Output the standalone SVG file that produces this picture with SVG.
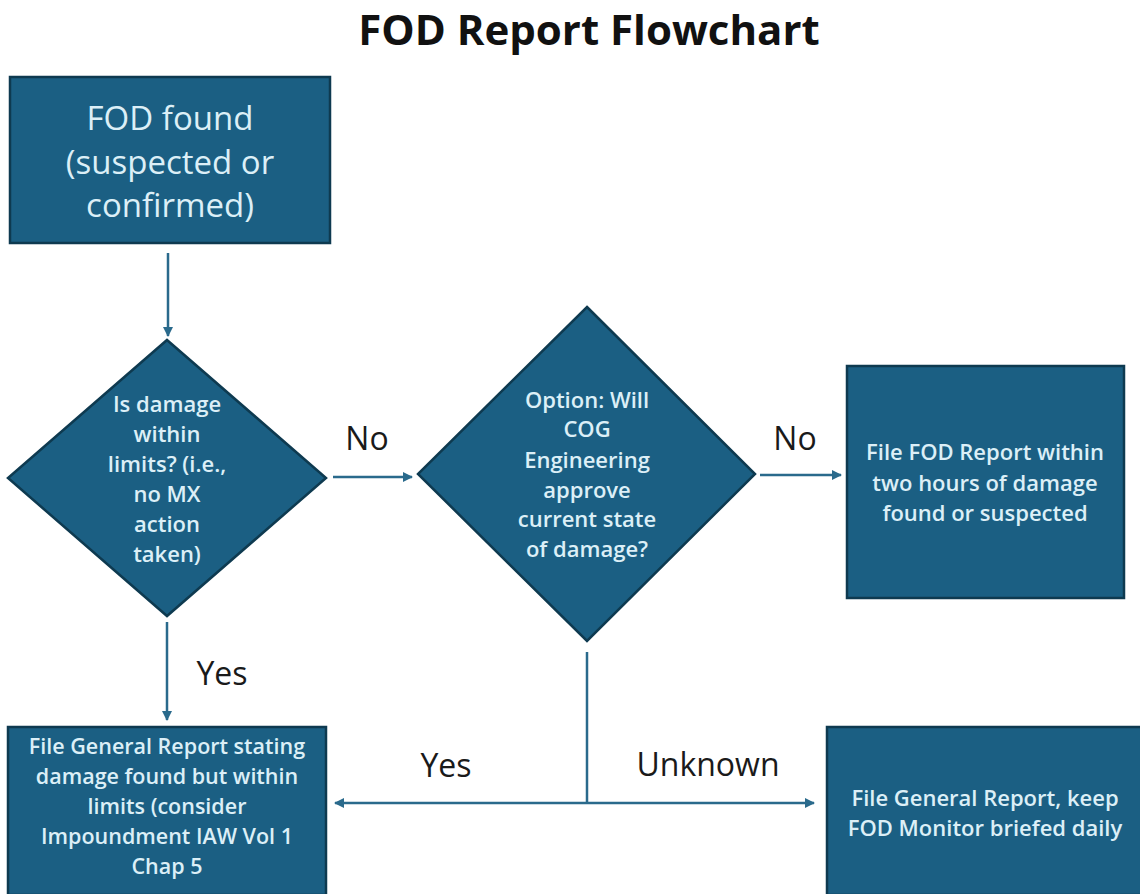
<svg xmlns="http://www.w3.org/2000/svg" width="1140" height="894" viewBox="0 0 1140 894">
<style>
.node{fill:#1B5F83;stroke:#0E3A50;stroke-width:2.5}
.nt{font-family:"Open Sans","Liberation Sans",Arial,sans-serif;fill:#DCEFF7;text-anchor:middle;font-weight:600;font-size:22px}
.lbl{font-family:"Open Sans","Liberation Sans",Arial,sans-serif;fill:#1a1a1a;text-anchor:middle;font-size:32px}
.con{stroke:#2A6A8C;stroke-width:2.5;fill:none}
</style>
<defs>
<marker id="ah" viewBox="0 0 10 10" refX="9" refY="5" markerWidth="4" markerHeight="4" orient="auto-start-reverse">
<path d="M0,0 L10,5 L0,10 z" fill="#2A6A8C"/>
</marker>
</defs>
<rect width="1140" height="894" fill="#ffffff"/>
<text x="589" y="45" font-family="Open Sans,Liberation Sans,Arial,sans-serif" font-weight="bold" font-size="42" text-anchor="middle" fill="#111">FOD Report Flowchart</text>

<g id="start">
<rect class="node" x="10" y="77" width="320" height="166"/>
<text class="nt" style="font-size:33px;font-weight:400"><tspan x="170" y="130">FOD found</tspan><tspan x="170" y="174">(suspected or</tspan><tspan x="170" y="217">confirmed)</tspan></text>
</g>

<g id="decision1">
<polygon class="node" points="167,340 326,478 167,616 8,478"/>
<text class="nt"><tspan x="167" y="412">Is damage</tspan><tspan x="167" y="442">within</tspan><tspan x="167" y="472">limits? (i.e.,</tspan><tspan x="167" y="502">no MX</tspan><tspan x="167" y="532">action</tspan><tspan x="167" y="562">taken)</tspan></text>
</g>

<g id="decision2">
<polygon class="node" points="587,307 755,474 587,641 418,474"/>
<text class="nt"><tspan x="587" y="408">Option: Will</tspan><tspan x="587" y="437">COG</tspan><tspan x="587" y="468">Engineering</tspan><tspan x="587" y="498">approve</tspan><tspan x="587" y="527">current state</tspan><tspan x="587" y="557">of damage?</tspan></text>
</g>

<g id="fodReport">
<rect class="node" x="847" y="366" width="277" height="232"/>
<text class="nt"><tspan x="985" y="460">File FOD Report within</tspan><tspan x="985" y="491">two hours of damage</tspan><tspan x="985" y="521">found or suspected</tspan></text>
</g>

<g id="generalReport">
<rect class="node" x="8" y="727" width="318" height="168"/>
<text class="nt" style="font-size:21.5px"><tspan x="167" y="754">File General Report stating</tspan><tspan x="167" y="784">damage found but within</tspan><tspan x="167" y="814">limits (consider</tspan><tspan x="167" y="844">Impoundment IAW Vol 1</tspan><tspan x="167" y="874">Chap 5</tspan></text>
</g>

<g id="monitorReport">
<rect class="node" x="827" y="727" width="318" height="168"/>
<text class="nt"><tspan x="985" y="806">File General Report, keep</tspan><tspan x="985" y="836">FOD Monitor briefed daily</tspan></text>
</g>

<g id="connectors">
<line class="con" x1="168" y1="253" x2="168" y2="336" marker-end="url(#ah)"/>
<line class="con" x1="333" y1="477" x2="412" y2="477" marker-end="url(#ah)"/>
<line class="con" x1="760" y1="475" x2="841" y2="475" marker-end="url(#ah)"/>
<line class="con" x1="167" y1="622" x2="167" y2="720" marker-end="url(#ah)"/>
<line class="con" x1="587" y1="652" x2="587" y2="803"/>
<line class="con" x1="335" y1="803" x2="814" y2="803" marker-start="url(#ah)" marker-end="url(#ah)"/>
</g>

<g id="labels">
<text class="lbl" x="367" y="450">No</text>
<text class="lbl" x="795" y="450">No</text>
<text class="lbl" x="222" y="685">Yes</text>
<text class="lbl" x="446" y="777">Yes</text>
<text class="lbl" x="708" y="776">Unknown</text>
</g>
</svg>
